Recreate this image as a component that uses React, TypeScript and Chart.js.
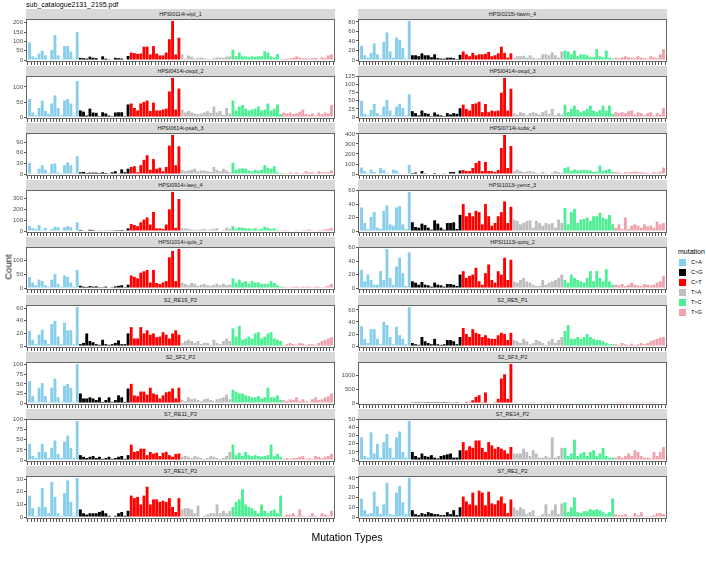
import React, { useEffect, useRef } from "react";
import { Chart, registerables } from "chart.js";

Chart.register(...registerables);

// ---------- data ----------
const mutationTypes = ["C>A", "C>G", "C>T", "T>A", "T>C", "T>G"];
const typeColors = ["#87CEEB", "#000000", "#FF0000", "#BEBEBE", "#4EEE94", "#EEA2AD"];
const flankBases = ["A", "C", "G", "T"];
const categories = mutationTypes.flatMap((t) =>
  flankBases.flatMap((a) => flankBases.map((b) => `${a}[${t}]${b}`))
);

const plotTitle = "sub_catalogue2131_2195.pdf";
const xTitle = "Mutation Types";
const yTitle = "Count";
const legendTitle = "mutation";

const sampleNames = [
  "HPSI0114i-eipl_1", "HPSI0215i-fawm_4",
  "HPSI0414i-osqd_2", "HPSI0414i-osqd_3",
  "HPSI0614i-psab_3", "HPSI0714i-iudw_4",
  "HPSI0914i-laey_4", "HPSI1013i-yemz_3",
  "HPSI1014i-quls_2", "HPSI1113i-qorq_2",
  "S2_RE19_P2", "S2_RE5_P1",
  "S2_SF2_P2", "S2_SF3_P2",
  "S7_RE11_P2", "S7_RE14_P2",
  "S7_RE17_P2", "S7_RE2_P2",
];

const sampleTicks = [
  [0, 50, 100, 150, 200], [0, 20, 40, 60, 80],
  [0, 50, 100], [0, 25, 50, 75, 100, 125],
  [0, 30, 60, 90], [0, 100, 200, 300, 400],
  [0, 100, 200, 300], [0, 20, 40, 60],
  [0, 50, 100], [0, 20, 40, 60],
  [0, 20, 40, 60], [0, 20, 40, 60],
  [0, 25, 50, 75, 100], [0, 500, 1000],
  [0, 25, 50, 75, 100], [0, 10, 20, 30, 40, 50],
  [0, 10, 20, 30], [0, 10, 20, 30, 40],
];

const eipl_1 = [
  95, 20, 12, 35, 50, 25, 4, 55, 135, 25, 5, 75, 75, 45, 5, 150,
  12, 10, 8, 18, 12, 10, 3, 20, 8, 4, 3, 12, 10, 8, 3, 22,
  40, 37, 33, 35, 72, 72, 30, 75, 35, 25, 25, 40, 112, 210, 30, 120,
  30, 8, 25, 18, 8, 12, 14, 10, 6, 5, 10, 14, 14, 12, 18, 20,
  55, 20, 40, 20, 20, 16, 20, 18, 20, 20, 48, 40, 20, 14, 32, 5,
  5, 8, 10, 12, 20, 14, 10, 10, 8, 10, 12, 5, 15, 12, 25, 30,
];
const fawm_4 = [
  30, 10, 5, 15, 35, 12, 3, 38, 58, 18, 5, 47, 42, 25, 3, 82,
  10, 10, 8, 14, 10, 10, 6, 12, 4, 3, 3, 5, 5, 4, 2, 11,
  18, 12, 8, 15, 10, 12, 12, 13, 17, 8, 10, 14, 28, 15, 5, 14,
  5, 8, 8, 9, 5, 10, 5, 3, 4, 12, 12, 10, 16, 10, 5, 18,
  20, 18, 12, 20, 8, 12, 12, 10, 6, 6, 23, 8, 6, 20, 5, 3,
  5, 4, 6, 8, 6, 5, 4, 8, 5, 4, 3, 8, 6, 4, 12, 23,
];
const osqd_2 = [
  60, 15, 5, 30, 55, 20, 10, 45, 72, 30, 5, 55, 60, 45, 5, 120,
  22, 18, 5, 28, 15, 14, 3, 16, 12, 5, 3, 15, 16, 16, 3, 42,
  45, 30, 22, 45, 50, 55, 20, 48, 22, 22, 25, 28, 85, 130, 25, 95,
  25, 15, 20, 15, 12, 10, 12, 15, 20, 14, 35, 15, 20, 8, 30, 12,
  55, 22, 35, 40, 28, 22, 25, 28, 35, 22, 25, 45, 22, 28, 42, 10,
  15, 12, 15, 10, 12, 18, 25, 10, 8, 12, 5, 15, 10, 15, 12, 40,
];
const osqd_3 = [
  50, 10, 5, 22, 40, 12, 5, 32, 52, 20, 5, 32, 40, 28, 5, 70,
  18, 12, 5, 20, 12, 10, 3, 14, 8, 5, 3, 12, 8, 12, 10, 27,
  38, 25, 20, 40, 42, 47, 15, 40, 15, 20, 18, 20, 75, 120, 20, 87,
  12, 8, 15, 12, 5, 12, 15, 12, 8, 15, 20, 10, 25, 5, 12, 8,
  38, 15, 25, 35, 22, 15, 20, 25, 35, 20, 15, 22, 35, 20, 35, 10,
  15, 12, 15, 12, 18, 20, 8, 15, 12, 5, 12, 15, 5, 12, 8, 28,
];
const psab_3 = [
  32, 2, 2, 15, 25, 12, 3, 28, 30, 5, 3, 25, 33, 25, 3, 50,
  5, 6, 3, 4, 4, 4, 3, 5, 3, 2, 5, 8, 2, 13, 5, 15,
  20, 22, 5, 25, 40, 53, 12, 42, 15, 18, 8, 20, 80, 110, 25, 78,
  12, 8, 10, 12, 15, 8, 10, 10, 8, 6, 20, 12, 8, 15, 10, 5,
  32, 12, 15, 16, 15, 10, 8, 12, 10, 12, 25, 18, 15, 22, 5, 3,
  3, 2, 5, 3, 5, 2, 3, 8, 5, 5, 3, 8, 5, 5, 5, 10,
];
const iudw_4 = [
  65, 30, 10, 45, 20, 5, 60, 40, 12, 5, 45, 35, 10, 5, 3, 90,
  10, 15, 5, 30, 8, 5, 5, 10, 5, 5, 3, 5, 20, 20, 5, 35,
  40, 30, 30, 60, 110, 130, 30, 120, 30, 30, 20, 40, 260, 390, 60, 280,
  30, 45, 30, 20, 25, 30, 22, 15, 10, 20, 12, 5, 15, 30, 20, 15,
  60, 70, 30, 45, 35, 40, 40, 40, 35, 20, 25, 85, 30, 40, 50, 20,
  20, 15, 10, 20, 15, 20, 25, 20, 18, 15, 12, 10, 20, 15, 25, 65,
];
const laey_4 = [
  50, 25, 20, 55, 10, 30, 5, 20, 40, 35, 5, 35, 45, 35, 5, 80,
  10, 6, 5, 12, 10, 4, 3, 5, 3, 3, 3, 8, 8, 10, 3, 25,
  65, 55, 45, 80, 105, 125, 60, 175, 25, 25, 20, 60, 200, 360, 30, 295,
  25, 25, 20, 15, 10, 12, 15, 20, 10, 15, 20, 25, 5, 10, 30, 20,
  45, 20, 35, 30, 25, 25, 20, 25, 15, 20, 40, 30, 20, 25, 10, 5,
  10, 8, 5, 5, 10, 5, 8, 10, 15, 8, 5, 10, 10, 15, 20, 30,
];
const yemz_3 = [
  35, 12, 3, 21, 28, 5, 3, 30, 38, 10, 8, 35, 37, 10, 3, 58,
  13, 6, 5, 11, 9, 5, 2, 16, 11, 5, 2, 12, 12, 13, 3, 24,
  40, 22, 27, 22, 30, 28, 10, 40, 22, 8, 12, 22, 28, 44, 12, 36,
  17, 15, 10, 12, 15, 16, 5, 15, 12, 8, 12, 10, 12, 5, 17, 12,
  34, 10, 28, 33, 12, 17, 18, 20, 15, 22, 22, 27, 20, 18, 24, 10,
  5, 10, 3, 20, 3, 8, 10, 8, 5, 10, 7, 8, 5, 14, 10, 12,
];
const quls_2 = [
  40, 20, 10, 30, 25, 10, 5, 30, 50, 15, 5, 45, 40, 20, 5, 65,
  8, 5, 4, 7, 5, 6, 3, 3, 5, 2, 3, 6, 8, 10, 3, 12,
  45, 40, 35, 55, 60, 65, 20, 65, 18, 15, 20, 25, 110, 133, 25, 140,
  20, 15, 10, 18, 15, 8, 12, 15, 10, 8, 12, 15, 10, 15, 10, 12,
  35, 20, 30, 20, 25, 15, 25, 20, 20, 15, 15, 15, 25, 18, 10, 5,
  5, 3, 3, 5, 5, 3, 5, 5, 5, 3, 5, 5, 3, 5, 8, 15,
];
const qorq_2 = [
  27, 10, 20, 12, 5, 5, 25, 12, 58, 15, 5, 32, 45, 22, 3, 53,
  10, 8, 5, 9, 5, 4, 2, 8, 5, 4, 2, 6, 6, 5, 3, 20,
  25, 15, 18, 20, 30, 10, 5, 22, 35, 12, 8, 25, 20, 45, 12, 42,
  10, 8, 12, 15, 10, 8, 5, 3, 3, 12, 5, 8, 10, 12, 15, 20,
  12, 8, 20, 15, 12, 10, 8, 15, 25, 10, 25, 15, 10, 28, 10, 5,
  5, 4, 6, 3, 5, 8, 5, 4, 3, 6, 5, 4, 5, 8, 10, 18,
];
const re19_p2 = [
  24, 10, 3, 18, 26, 10, 3, 35, 40, 15, 3, 37, 25, 25, 3, 62,
  3, 5, 20, 8, 6, 3, 2, 10, 3, 2, 3, 5, 9, 3, 3, 20,
  30, 12, 12, 30, 20, 25, 18, 20, 14, 15, 22, 18, 12, 20, 25, 18,
  5, 8, 10, 8, 5, 8, 3, 5, 5, 2, 10, 5, 3, 8, 12, 8,
  28, 15, 32, 10, 12, 15, 12, 20, 22, 12, 15, 20, 22, 12, 10, 8,
  2, 3, 5, 3, 2, 5, 4, 2, 3, 3, 2, 5, 8, 10, 12, 14,
];
const re5_p1 = [
  33, 12, 5, 28, 28, 12, 3, 40, 35, 15, 3, 32, 18, 12, 3, 65,
  5, 3, 2, 15, 8, 5, 3, 12, 3, 2, 3, 10, 10, 8, 3, 15,
  30, 20, 15, 28, 22, 20, 15, 18, 13, 12, 12, 18, 22, 20, 10, 22,
  10, 8, 5, 12, 8, 3, 5, 10, 8, 5, 2, 8, 12, 5, 10, 15,
  25, 35, 12, 12, 15, 12, 15, 20, 15, 12, 10, 10, 8, 5, 3, 3,
  3, 2, 5, 3, 2, 4, 2, 3, 5, 3, 5, 8, 10, 12, 14, 15,
];
const sf2_p2 = [
  57, 18, 3, 40, 52, 18, 3, 40, 64, 15, 3, 45, 50, 40, 3, 102,
  25, 12, 12, 15, 12, 8, 15, 3, 8, 15, 3, 8, 20, 15, 3, 38,
  50, 20, 18, 30, 30, 22, 40, 25, 22, 12, 20, 28, 30, 38, 12, 40,
  8, 5, 15, 10, 12, 8, 5, 10, 12, 8, 5, 10, 12, 15, 22, 10,
  35, 30, 25, 25, 20, 18, 15, 15, 18, 12, 15, 40, 15, 15, 20, 8,
  8, 5, 10, 8, 15, 5, 10, 5, 3, 10, 15, 8, 10, 15, 18, 25,
];
const sf3_p2 = [
  20, 10, 5, 15, 10, 5, 5, 10, 20, 10, 5, 15, 10, 10, 5, 30,
  10, 5, 5, 10, 5, 5, 5, 5, 5, 5, 3, 5, 10, 10, 5, 15,
  20, 40, 10, 100, 220, 280, 30, 380, 20, 15, 30, 150, 880, 1030, 150, 1400,
  10, 5, 10, 5, 5, 5, 5, 10, 15, 10, 5, 5, 10, 5, 10, 15,
  20, 10, 15, 10, 10, 10, 15, 10, 10, 20, 15, 10, 10, 15, 10, 5,
  5, 5, 5, 5, 5, 5, 5, 5, 5, 5, 5, 5, 5, 10, 15, 30,
];
const re11_p2 = [
  40, 10, 5, 20, 40, 20, 5, 30, 48, 15, 5, 45, 60, 30, 5, 96,
  12, 8, 5, 8, 10, 5, 8, 3, 5, 8, 3, 5, 8, 10, 3, 12,
  38, 20, 22, 28, 28, 12, 20, 16, 18, 10, 18, 20, 12, 8, 15, 16,
  8, 10, 8, 5, 10, 8, 5, 3, 5, 10, 8, 5, 3, 5, 10, 20,
  38, 12, 18, 10, 20, 12, 10, 12, 10, 8, 10, 12, 38, 10, 15, 8,
  3, 5, 3, 5, 5, 8, 10, 3, 5, 3, 10, 8, 5, 8, 10, 15,
];
const re14_p2 = [
  28, 5, 3, 34, 8, 20, 3, 22, 32, 15, 3, 28, 35, 10, 3, 48,
  10, 5, 3, 8, 5, 4, 6, 3, 2, 5, 6, 7, 8, 3, 3, 12,
  22, 12, 17, 15, 24, 24, 15, 10, 22, 18, 14, 16, 14, 12, 8, 16,
  8, 8, 8, 14, 10, 5, 12, 8, 3, 3, 5, 3, 28, 3, 5, 15,
  15, 5, 8, 25, 5, 8, 10, 5, 10, 12, 5, 8, 15, 5, 3, 3,
  3, 5, 3, 5, 8, 5, 12, 10, 5, 3, 3, 2, 10, 5, 10, 16,
];
const re17_p2 = [
  17, 7, 1, 8, 23, 8, 3, 28, 16, 3, 1, 19, 29, 12, 1, 31,
  6, 3, 2, 3, 3, 3, 4, 5, 3, 1, 0, 1, 3, 4, 1, 5,
  17, 15, 16, 10, 17, 24, 10, 14, 14, 12, 13, 12, 15, 8, 4, 15,
  6, 7, 7, 6, 3, 9, 0, 1, 2, 3, 3, 10, 3, 5, 3, 5,
  8, 12, 14, 22, 10, 8, 7, 5, 3, 10, 5, 3, 5, 6, 3, 17,
  1, 2, 2, 3, 1, 6, 1, 0, 1, 3, 1, 0, 3, 2, 1, 5,
];
const re2_p2 = [
  19, 7, 3, 4, 26, 11, 3, 13, 35, 3, 2, 25, 32, 15, 3, 40,
  7, 3, 2, 4, 3, 5, 4, 3, 3, 2, 2, 5, 3, 7, 2, 10,
  21, 16, 13, 25, 12, 27, 25, 12, 26, 14, 13, 17, 21, 14, 4, 18,
  10, 7, 10, 8, 3, 5, 7, 1, 1, 3, 13, 3, 7, 13, 3, 14,
  15, 5, 10, 20, 5, 4, 6, 6, 8, 7, 8, 7, 5, 3, 5, 19,
  3, 2, 2, 3, 1, 1, 4, 2, 5, 0, 1, 1, 2, 4, 4, 3,
];

const sampleValues = [
  eipl_1, fawm_4, osqd_2, osqd_3, psab_3, iudw_4, laey_4, yemz_3, quls_2,
  qorq_2, re19_p2, re5_p1, sf2_p2, sf3_p2, re11_p2, re14_p2, re17_p2, re2_p2,
];

// ---------- layout ----------
const FONT = '"Liberation Sans", Arial, Helvetica, sans-serif';
const PANEL_W = 309;
const PANEL_H = 43;
const STRIP_H = 10;
const COL_LEFT = [26, 358];
const ROW_TOP0 = 9;
const ROW_PITCH = 57.1;
const YAXIS_W = 26;
const PAD_TOP = 5;
const XAXIS_H = 4;

const panelBorder = {
  id: "panelBorder",
  afterDraw(chart: any) {
    const { ctx, chartArea: a } = chart;
    ctx.save();
    ctx.strokeStyle = "#666666";
    ctx.lineWidth = 1;
    ctx.strokeRect(
      Math.round(a.left) + 0.5,
      Math.round(a.top) + 0.5,
      Math.round(a.right - a.left) - 1,
      Math.round(a.bottom - a.top) - 1
    );
    ctx.restore();
  },
};

function Panel({ values, ticks, left, top }: { values: number[]; ticks: number[]; left: number; top: number }) {
  const ref = useRef<HTMLCanvasElement>(null);
  useEffect(() => {
    const maxV = Math.max(...values);
    const chart = new Chart(ref.current as HTMLCanvasElement, {
      type: "bar",
      data: {
        datasets: [
          {
            data: values.map((v, i) => ({ x: i, y: v })),
            backgroundColor: values.map((_, i) => typeColors[Math.floor(i / 16)]),
            borderWidth: 0,
            categoryPercentage: 1,
            barPercentage: 0.9,
          } as any,
        ],
      },
      options: {
        responsive: false,
        animation: false,
        devicePixelRatio: 1,
        layout: { padding: { top: PAD_TOP, right: 2, bottom: 0, left: 0 } },
        plugins: { legend: { display: false }, tooltip: { enabled: false } },
        scales: {
          x: {
            type: "linear",
            min: -0.6,
            max: 95.6,
            afterBuildTicks: (s: any) => {
              s.ticks = categories.map((_, i) => ({ value: i }));
            },
            afterFit: (s: any) => {
              s.height = XAXIS_H;
              s.paddingLeft = 0;
              s.paddingRight = 0;
            },
            ticks: { display: false },
            grid: { drawOnChartArea: false, drawTicks: true, tickLength: 3, color: "#555555", lineWidth: 1 },
            border: { display: false },
          },
          y: {
            type: "linear",
            min: -0.05 * maxV,
            max: 1.05 * maxV,
            afterBuildTicks: (s: any) => {
              s.ticks = ticks.map((v) => ({ value: v }));
            },
            afterFit: (s: any) => {
              s.width = YAXIS_W;
              s.paddingTop = 0;
              s.paddingBottom = 0;
            },
            ticks: {
              autoSkip: false,
              padding: 1,
              color: "#4D4D4D",
              font: { size: 6, family: FONT },
              callback: (v: any) => String(v),
            },
            grid: { drawOnChartArea: false, drawTicks: true, tickLength: 2, color: "#555555", lineWidth: 1 },
            border: { display: false },
          },
        },
      } as any,
      plugins: [panelBorder],
    });
    return () => chart.destroy();
  }, [values, ticks]);
  const w = YAXIS_W + PANEL_W + 2;
  const h = PAD_TOP + PANEL_H + XAXIS_H;
  return (
    <canvas
      ref={ref}
      width={w}
      height={h}
      style={{ position: "absolute", left: left - YAXIS_W, top: top - PAD_TOP, width: w, height: h, display: "block" }}
    />
  );
}

export default function App() {
  return (
    <div
      style={{
        position: "fixed",
        left: 0,
        top: 0,
        width: 706,
        height: 567,
        background: "#ffffff",
        overflow: "hidden",
        fontFamily: FONT,
      }}
    >
      <div style={{ position: "absolute", left: 26, top: 0, fontSize: 7, lineHeight: "9px", color: "#000" }}>{plotTitle}</div>
      {sampleNames.map((name, k) => {
        const col = k % 2;
        const row = Math.floor(k / 2);
        const stripTop = Math.round(ROW_TOP0 + ROW_PITCH * row);
        const left = COL_LEFT[col];
        const panelTop = stripTop + STRIP_H;
        return (
          <React.Fragment key={name}>
            <div
              style={{
                position: "absolute",
                left,
                top: stripTop,
                width: PANEL_W,
                height: STRIP_H,
                background: "#D9D9D9",
                color: "#1A1A1A",
                fontSize: 5.5,
                lineHeight: `${STRIP_H}px`,
                textAlign: "center",
                whiteSpace: "nowrap",
              }}
            >
              {name}
            </div>
            <Panel values={sampleValues[k]} ticks={sampleTicks[k]} left={left} top={panelTop} />
          </React.Fragment>
        );
      })}
      <div
        style={{
          position: "absolute",
          left: 8,
          top: 267,
          transform: "translate(-50%, -50%) rotate(-90deg)",
          fontSize: 9.5,
          whiteSpace: "nowrap",
          color: "#000",
        }}
      >
        {yTitle}
      </div>
      <div
        style={{
          position: "absolute",
          left: 347,
          top: 537,
          transform: "translate(-50%, -50%)",
          fontSize: 10.5,
          whiteSpace: "nowrap",
          color: "#000",
        }}
      >
        {xTitle}
      </div>
      <div style={{ position: "absolute", left: 678, top: 247, fontSize: 7, lineHeight: "9px", color: "#000" }}>
        {legendTitle}
      </div>
      {mutationTypes.map((t, k) => (
        <React.Fragment key={t}>
          <div
            style={{
              position: "absolute",
              left: 679,
              top: 259 + 10 * k,
              width: 7,
              height: 7,
              background: typeColors[k],
            }}
          />
          <div
            style={{
              position: "absolute",
              left: 691,
              top: 259 + 10 * k,
              fontSize: 5.5,
              lineHeight: "7px",
              color: "#000",
              whiteSpace: "nowrap",
            }}
          >
            {t}
          </div>
        </React.Fragment>
      ))}
    </div>
  );
}
